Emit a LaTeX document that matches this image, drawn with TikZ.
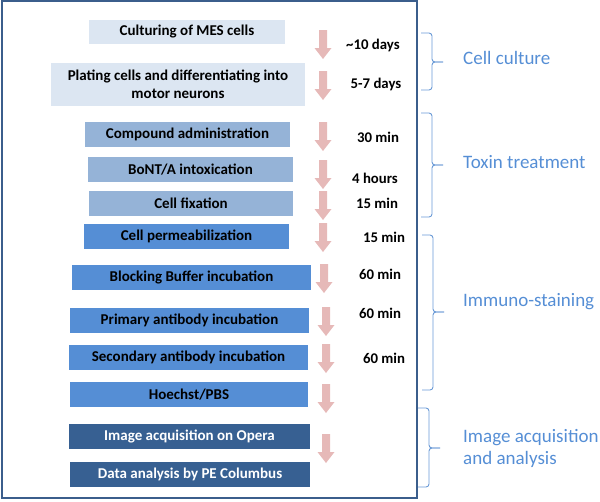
\documentclass[tikz,border=0pt]{standalone}
\usepackage{fontspec}
\setmainfont{Carlito}
\begin{document}
\begin{tikzpicture}[x=1pt,y=-1pt,
  stepbox/.style={rectangle,inner sep=0pt,font=\fontsize{15}{18}\selectfont\bfseries,align=center,text=black},
  pale/.style={stepbox,fill=palec},
  mid/.style={stepbox,fill=midc},
  blu/.style={stepbox,fill=bluc},
  dark/.style={stepbox,fill=darkc,text=white},
  timelbl/.style={font=\fontsize{14.8}{17}\selectfont\bfseries,inner sep=0pt},
  grplbl/.style={font=\fontsize{19}{22}\selectfont,text=grpc,anchor=west,align=left,inner sep=0pt},
  brc/.style={draw=bracec,line width=0.9pt,rounded corners=3pt},
  downarrow/.pic={\fill[arrowc] (-4,0) -- (4,0) -- (4,18) -- (8.5,18) -- (0,29) -- (-8.5,18) -- (-4,18) -- cycle;}
]
\definecolor{palec}{HTML}{DCE6F2}
\definecolor{midc}{HTML}{95B3D7}
\definecolor{bluc}{HTML}{558ED5}
\definecolor{darkc}{HTML}{376092}
\definecolor{arrowc}{HTML}{E6B9B8}
\definecolor{grpc}{HTML}{558ED5}
\definecolor{bracec}{HTML}{6A9AD6}
\definecolor{framec}{HTML}{3B5E8C}
\useasboundingbox (0,0) rectangle (600,501);
\draw[framec,line width=2pt] (2,1) rectangle (417,498);

\node[pale,minimum width=196pt,minimum height=24pt] (b1) at (187,32) {Culturing of MES cells};
\node[pale,minimum width=254pt,minimum height=43pt] (b2) at (178,84.5) {Plating cells and differentiating into\\motor neurons};
\node[mid,minimum width=205pt,minimum height=25pt] (b3) at (187.5,134.5) {Compound administration};
\node[mid,minimum width=205pt,minimum height=25pt] (b4) at (190.5,169.5) {BoNT/A intoxication};
\node[mid,minimum width=204pt,minimum height=25pt] (b5) at (191,203.5) {Cell fixation};
\node[blu,minimum width=205pt,minimum height=25pt] (b6) at (186.5,236.5) {Cell permeabilization};
\node[blu,minimum width=239pt,minimum height=25pt] (b7) at (191.5,277.5) {Blocking Buffer incubation};
\node[blu,minimum width=239pt,minimum height=25pt] (b8) at (189.5,320.5) {Primary antibody incubation};
\node[blu,minimum width=239pt,minimum height=25pt] (b9) at (188.5,357.5) {Secondary antibody incubation};
\node[blu,minimum width=238pt,minimum height=25pt] (b10) at (189,394.5) {Hoechst/PBS};
\node[dark,minimum width=241pt,minimum height=25pt] (b11) at (189.5,436.5) {Image acquisition on Opera};
\node[dark,minimum width=240pt,minimum height=25pt] (b12) at (190,474.5) {Data analysis by PE Columbus};

\pic at (323,30) {downarrow};
\pic at (323,71) {downarrow};
\pic at (323,122) {downarrow};
\pic at (323,160) {downarrow};
\pic at (323,191) {downarrow};
\pic at (323,223) {downarrow};
\pic at (324,264) {downarrow};
\pic at (326,307) {downarrow};
\pic at (326,344) {downarrow};
\pic at (326,384) {downarrow};
\pic at (326,434) {downarrow};

\node[timelbl] (t1) at (373,45) {\textasciitilde10 days};
\node[timelbl] (t2) at (376,84) {5-7 days};
\node[timelbl] (t3) at (378,137) {30 min};
\node[timelbl] (t4) at (375,178) {4 hours};
\node[timelbl] (t5) at (377,203) {15 min};
\node[timelbl] (t6) at (384,237) {15 min};
\node[timelbl] (t7) at (380,274) {60 min};
\node[timelbl] (t8) at (380,313) {60 min};
\node[timelbl] (t9) at (384,358) {60 min};

\draw[brc] (421,33) -| (432,62) -- (443,62);
\draw[brc] (443,62) -- (432,62) |- (421,90);
\draw[brc] (421,113) -| (432,165) -- (443,165);
\draw[brc] (443,165) -- (432,165) |- (421,217);
\draw[brc] (422,235) -| (433,312) -- (444,312);
\draw[brc] (444,312) -- (433,312) |- (422,390);
\draw[brc] (418,408) -| (429,448) -- (440,448);
\draw[brc] (440,448) -- (429,448) |- (418,487);

\node[grplbl] (g1) at (463,58) {Cell culture};
\node[grplbl] (g2) at (463,162) {Toxin treatment};
\node[grplbl] (g3) at (463,302) {Immuno-staining};
\node[grplbl] (g4) at (463,448) {Image acquisition\\and analysis};
\end{tikzpicture}
\end{document}
